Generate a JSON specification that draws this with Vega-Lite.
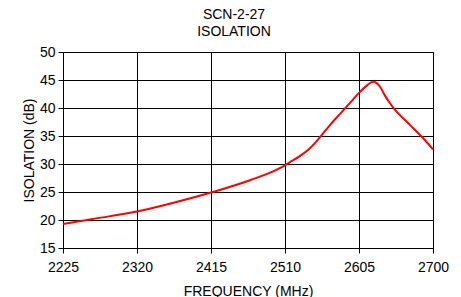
{
  "$schema": "https://vega.github.io/schema/vega-lite/v6.json",
  "autosize": {"type": "none"},
  "padding": {"left": 63, "top": 52, "right": 28, "bottom": 49},
  "width": 370,
  "height": 196,
  "background": "white",
  "title": {
    "text": ["SCN-2-27", "ISOLATION"],
    "anchor": "middle",
    "dx": -14,
    "font": "Liberation Sans",
    "fontSize": 14,
    "fontWeight": "normal",
    "color": "black",
    "lineHeight": 17,
    "offset": 6
  },
  "config": {
    "view": {"stroke": "black", "strokeWidth": 1},
    "axis": {
      "labelFont": "Liberation Sans",
      "labelFontSize": 14,
      "labelColor": "black",
      "titleFont": "Liberation Sans",
      "titleFontSize": 14,
      "titleFontWeight": "normal",
      "titleColor": "black",
      "domainColor": "black",
      "tickColor": "black",
      "tickSize": 5,
      "gridColor": "black",
      "gridOpacity": 1,
      "gridWidth": 1
    }
  },
  "data": {
    "values": [
      {"freq": 2225, "iso": 19.3},
      {"freq": 2264, "iso": 20.2},
      {"freq": 2320, "iso": 21.5},
      {"freq": 2362, "iso": 22.9},
      {"freq": 2415, "iso": 24.9},
      {"freq": 2465, "iso": 27.1},
      {"freq": 2504, "iso": 29.3},
      {"freq": 2516, "iso": 30.3},
      {"freq": 2529, "iso": 31.4},
      {"freq": 2542, "iso": 32.8},
      {"freq": 2555, "iso": 34.8},
      {"freq": 2568, "iso": 37.0},
      {"freq": 2581, "iso": 39.0},
      {"freq": 2594, "iso": 41.0},
      {"freq": 2605, "iso": 42.7},
      {"freq": 2615, "iso": 44.0},
      {"freq": 2623, "iso": 44.7},
      {"freq": 2632, "iso": 43.8},
      {"freq": 2638, "iso": 42.3},
      {"freq": 2645, "iso": 40.8},
      {"freq": 2651, "iso": 39.7},
      {"freq": 2671, "iso": 36.9},
      {"freq": 2688, "iso": 34.5},
      {"freq": 2700, "iso": 32.6}
    ]
  },
  "mark": {"type": "line", "color": "#ff0000", "strokeWidth": 2, "interpolate": "monotone"},
  "encoding": {
    "x": {
      "field": "freq",
      "type": "quantitative",
      "scale": {"domain": [2225, 2700], "nice": false, "zero": false},
      "axis": {
        "title": "FREQUENCY (MHz)",
        "values": [2225, 2320, 2415, 2510, 2605, 2700],
        "format": "d",
        "labelPadding": 7,
        "titlePadding": 10,
        "labelFlush": false
      }
    },
    "y": {
      "field": "iso",
      "type": "quantitative",
      "scale": {"domain": [15, 50], "nice": false, "zero": false},
      "axis": {
        "title": "ISOLATION (dB)",
        "values": [15, 20, 25, 30, 35, 40, 45, 50],
        "labelPadding": 3,
        "titlePadding": 3,
        "labelFlush": false
      }
    }
  }
}
